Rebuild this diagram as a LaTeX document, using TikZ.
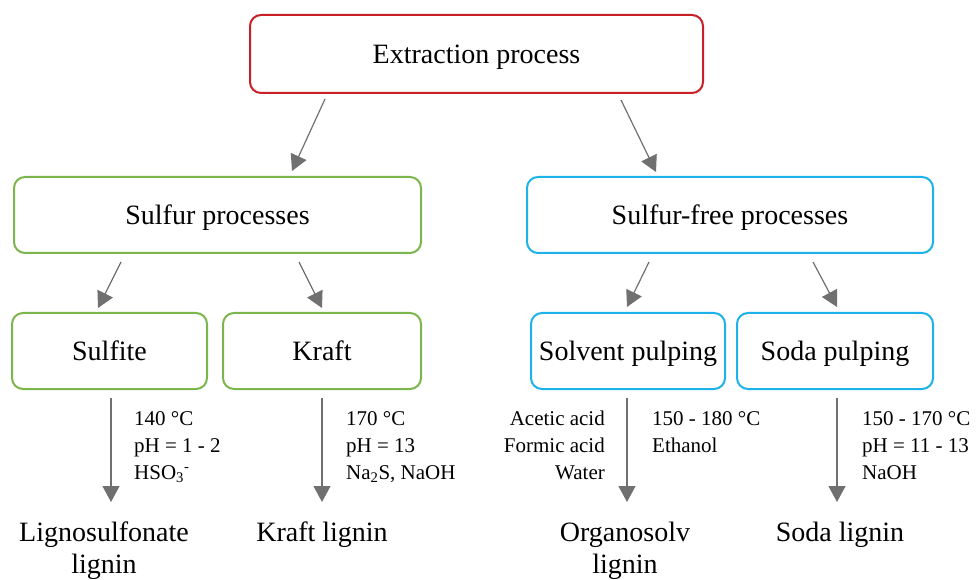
\documentclass[tikz,border=0pt]{standalone}
\usepackage{fontspec}
\setmainfont{Liberation Serif}
\usetikzlibrary{arrows.meta,calc}
\definecolor{boxred}{RGB}{200,32,38}
\definecolor{boxgreen}{RGB}{122,182,76}
\definecolor{boxblue}{RGB}{30,178,234}
\definecolor{arrgray}{RGB}{112,112,112}
\newcommand{\bigtxt}{\fontsize{28}{31.5}\selectfont}
\newcommand{\smalltxt}{\fontsize{21}{27}\selectfont}
\tikzset{
  box/.style={draw, line width=2pt, rounded corners=11pt, minimum height=76pt,
    inner sep=0pt, font=\bigtxt, text=black, text height=18.5pt, text depth=0pt},
  arr/.style={draw=arrgray, line width=1.2pt, -{Triangle[length=16pt,width=17pt]}},
  product/.style={anchor=north, align=center, inner sep=0pt, font=\bigtxt},
  cond/.style={inner sep=0pt, font=\smalltxt},
}
\begin{document}
\begin{tikzpicture}[x=1pt,y=-1pt]
\useasboundingbox (0,0) rectangle (978,580);

\node[box, draw=boxred, minimum width=453pt, minimum height=78pt] (ext) at (476.5,54) {Extraction process};
\node[box, draw=boxgreen, minimum width=407pt] (sulf) at (217.5,215) {Sulfur processes};
\node[box, draw=boxblue, minimum width=406pt] (sfree) at (730,215) {Sulfur-free processes};
\node[box, draw=boxgreen, minimum width=195pt] (sulfite) at (109.5,351) {Sulfite};
\node[box, draw=boxgreen, minimum width=198pt] (kraft) at (322,351) {Kraft};
\node[box, draw=boxblue, minimum width=194pt] (solvent) at (628,351) {Solvent pulping};
\node[box, draw=boxblue, minimum width=196pt] (soda) at (835,351) {Soda pulping};

\node[product] (lig) at (104,522) {Lignosulfonate\\lignin};
\node[product] (klig) at (322,522) {Kraft lignin};
\node[product] (olig) at (625,522) {Organosolv\\lignin};
\node[product] (slig) at (840,522) {Soda lignin};

\node[cond, anchor=north west, align=left] (c1) at (134,411) {140 °C\\pH = 1 - 2\\HSO\textsubscript{3}\textsuperscript{-}};
\node[cond, anchor=north west, align=left] (c2) at (346,411) {170 °C\\pH = 13\\Na\textsubscript{2}S, NaOH};
\node[cond, anchor=north east, align=right] (c3) at (605,411) {Acetic acid\\Formic acid\\Water};
\node[cond, anchor=north west, align=left] (c4) at (652,411) {150 - 180 °C\\Ethanol};
\node[cond, anchor=north west, align=left] (c5) at (862,411) {150 - 170 °C\\pH = 11 - 13\\NaOH};

\draw[arr] ($(ext.south)+(-151.5,5)$) -- ($(sulf.north)+(74.5,-5)$);
\draw[arr] ($(ext.south)+(144.5,6)$) -- ($(sfree.north)+(-74,-4)$);
\draw[arr] ($(sulf.south)+(-96.5,8)$) -- ($(sulfite.north)+(-11.5,-4)$);
\draw[arr] ($(sulf.south)+(81.5,8)$) -- ($(kraft.north)+(0,-4)$);
\draw[arr] ($(sfree.south)+(-81,8)$) -- ($(solvent.north)+(-1,-5)$);
\draw[arr] ($(sfree.south)+(83,8)$) -- ($(soda.north)+(2,-5)$);

\draw[arr] ($(sulfite.south)+(1.5,8)$) -- ($(sulfite.south |- lig.north)+(1.5,-20)$);
\draw[arr] ($(kraft.south)+(0,8)$) -- ($(kraft.south |- klig.north)+(0,-20)$);
\draw[arr] ($(solvent.south)+(-1,8)$) -- ($(solvent.south |- olig.north)+(-1,-20)$);
\draw[arr] ($(soda.south)+(2,8)$) -- ($(soda.south |- slig.north)+(2,-20)$);
\end{tikzpicture}
\end{document}
